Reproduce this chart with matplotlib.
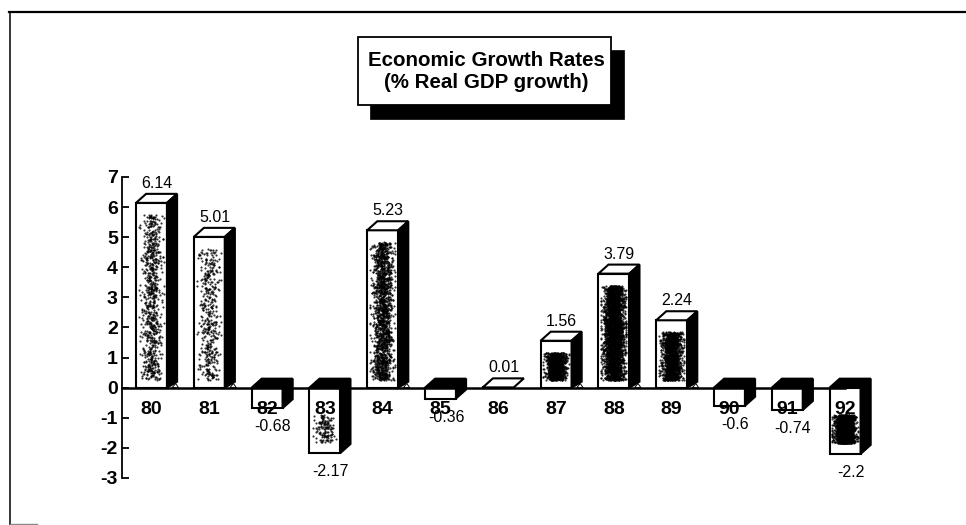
import numpy as np
import matplotlib
matplotlib.use('Agg')
import matplotlib.pyplot as plt
from matplotlib.patches import Polygon, Rectangle
from matplotlib.lines import Line2D

plt.rcParams['font.family'] = ['Liberation Sans', 'DejaVu Sans']
plt.rcParams['axes.unicode_minus'] = False

years = ['80', '81', '82', '83', '84', '85', '86', '87', '88', '89', '90', '91', '92']
growth = [6.14, 5.01, -0.68, -2.17, 5.23, -0.36, 0.01, 1.56, 3.79, 2.24, -0.6, -0.74, -2.2]
value_labels = ['6.14', '5.01', '-0.68', '-2.17', '5.23', '-0.36', '0.01',
                '1.56', '3.79', '2.24', '-0.6', '-0.74', '-2.2']
y_ticks = [-3, -2, -1, 0, 1, 2, 3, 4, 5, 6, 7]
# dots of shading per bar
stipple = [750, 420, 0, 130, 1500, 0, 0, 1000, 3000, 1300, 0, 0, 1500]

W, H = 966, 525
BAR_W = 0.536
DEPTH_X = 0.175
DEPTH_Y = 0.3
LW = 1.5


def fig_xy(px, py):
    return px / W, 1 - py / H


fig = plt.figure(figsize=(9.66, 5.25), dpi=100)
ax = fig.add_axes([122 / W, 1 - 478 / H, 57.8 * 13.3 / W, (478 - 177) / H])
ax.patch.set_visible(False)
ax.set_xlim(-0.51, 12.79)
ax.set_ylim(-3, 7)

x = np.arange(len(years))
ax.bar(x, growth, BAR_W, color='white', edgecolor='black', linewidth=LW)

rng = np.random.default_rng(12)
for xi, v, n in zip(x, growth, stipple):
    l, r = xi - BAR_W / 2, xi + BAR_W / 2
    if v >= 0:
        top = [(l, v), (l + DEPTH_X, v + DEPTH_Y), (r + DEPTH_X, v + DEPTH_Y), (r, v)]
        ax.add_patch(Polygon(top, fc='white', ec='black', lw=LW))
        if v > 0.5:
            side = [(r, v), (r + DEPTH_X, v + DEPTH_Y), (r + DEPTH_X, 0.2), (r, 0)]
            ax.add_patch(Polygon(side, fc='black', ec='black', lw=LW))
            foot = [(r + 0.09, 0), (r + 0.15, 0.14), (r + 0.2, 0)]
            ax.add_patch(Polygon(foot, fc='white', ec='black', lw=0.7))
    else:
        top = [(l, 0), (l + DEPTH_X, DEPTH_Y), (r + DEPTH_X, DEPTH_Y), (r, 0)]
        ax.add_patch(Polygon(top, fc='black', ec='black', lw=LW))
        side = [(r, 0), (r + DEPTH_X, DEPTH_Y), (r + DEPTH_X, v + DEPTH_Y), (r, v)]
        ax.add_patch(Polygon(side, fc='black', ec='black', lw=LW))
    if n:
        if v > 0:
            lo, hi = 0.25, v - 0.4
        else:
            lo, hi = v + 0.35, -0.9
        dx = np.clip(rng.normal(xi, 0.085, n), l + 0.05, r - 0.05)
        dy = rng.uniform(lo, hi, n)
        ax.scatter(dx, dy, s=2.4, c='black', linewidths=0, alpha=0.8, zorder=2)

ax.spines['top'].set_visible(False)
ax.spines['right'].set_visible(False)
ax.spines['left'].set_linewidth(1.3)
ax.spines['bottom'].set_position(('data', 0))
ax.spines['bottom'].set_linewidth(1.8)
ax.spines['bottom'].set_bounds(-0.51, 12)

ax.set_yticks(y_ticks)
ax.set_yticklabels([str(t) for t in y_ticks], fontsize=14, fontweight='bold')
ax.tick_params(axis='y', direction='in', length=5, width=1.3, pad=3)
ax.set_xticks(x)
ax.set_xticklabels(years, fontsize=14, fontweight='bold')
ax.tick_params(axis='x', length=0, pad=9.5)

# value labels sit above the bar top, or below the bar end for negatives
for xi, v, label in zip(x, growth, value_labels):
    off = 14 if v >= 0 else -13.5
    ax.annotate(label, (xi, v), xytext=(4, off), textcoords='offset points',
                ha='center', va='center', fontsize=11.5, zorder=4)

# outer frame, only the top and left edges are inked
fig.add_artist(Line2D([9 / W, 1], [1 - 12 / H, 1 - 12 / H], color='black', lw=1.6))
fig.add_artist(Line2D([9.5 / W, 9.5 / W], [1 - 12 / H, 0], color='black', lw=1.1))
fig.add_artist(Line2D([10 / W, 37 / W], [1 - 524 / H, 1 - 524 / H], color='#888888', lw=1))

# title box with a drop shadow
fig.add_artist(Rectangle(fig_xy(370, 119), 254 / W, 69 / H, transform=fig.transFigure,
                         fc='black', ec='black', lw=0.5))
fig.add_artist(Rectangle(fig_xy(358, 105), 253 / W, 68 / H, transform=fig.transFigure,
                         fc='white', ec='black', lw=1.3))
fig.text(486 / W, 1 - 72 / H, 'Economic Growth Rates\n(% Real GDP growth)', ha='center',
         va='center', fontsize=14.8, fontweight='bold', linespacing=1.2)

fig.savefig('out.png', dpi=100)
